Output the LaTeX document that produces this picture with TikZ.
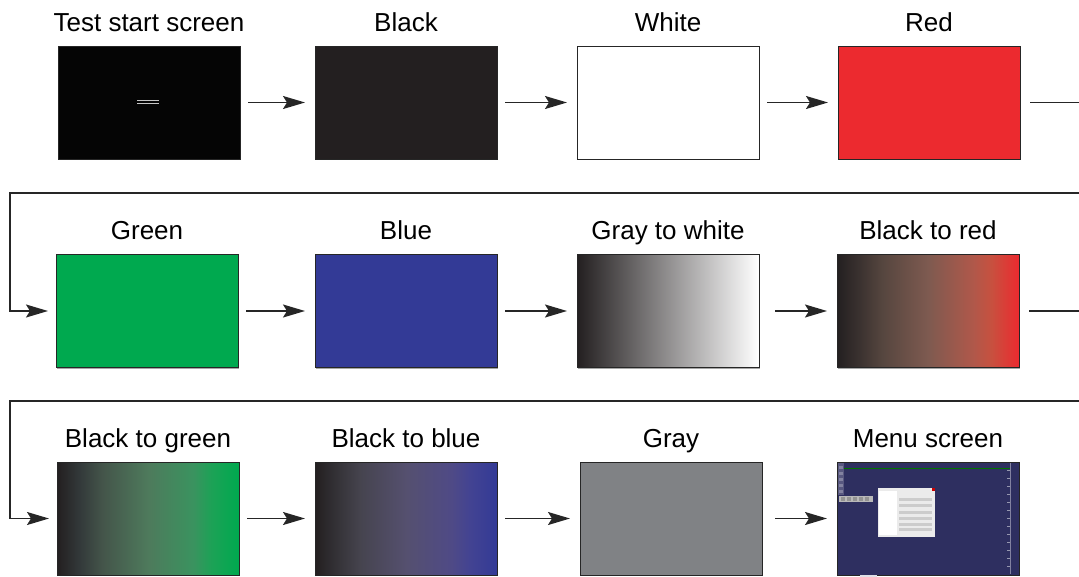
\documentclass[tikz,border=0pt]{standalone}
\usepackage{fontspec}
\setmainfont{Liberation Sans}
\usetikzlibrary{arrows.meta, shadows}
\definecolor{scrblack}{HTML}{231F20}
\definecolor{scrred}{HTML}{EC2A2F}
\definecolor{scrgreen}{HTML}{00A94F}
\definecolor{scrblue}{HTML}{333A96}
\definecolor{scrgray}{HTML}{808285}
\definecolor{menublue}{HTML}{2E2F60}
% gradients as printed on the screens
\definecolor{reda}{HTML}{3B3230}\definecolor{redq}{HTML}{56463F}\definecolor{redm}{HTML}{7E5A50}
\definecolor{redt}{HTML}{B0584A}\definecolor{rede}{HTML}{C8503F}
\definecolor{greena}{HTML}{33393A}\definecolor{greenq}{HTML}{44554A}\definecolor{greenm}{HTML}{4E7A5C}
\definecolor{greent}{HTML}{3A935F}\definecolor{greene}{HTML}{1CA256}
\definecolor{bluea}{HTML}{353338}\definecolor{blueq}{HTML}{46444F}\definecolor{bluem}{HTML}{55506F}
\definecolor{bluet}{HTML}{4F4A86}\definecolor{bluee}{HTML}{434392}
\pgfdeclarehorizontalshading{blackred}{100bp}{color(0bp)=(scrblack); color(25bp)=(scrblack);
    color(31.25bp)=(reda); color(37.5bp)=(redq); color(50bp)=(redm); color(62.5bp)=(redt);
    color(67.5bp)=(rede); color(75bp)=(scrred); color(100bp)=(scrred)}
\pgfdeclarehorizontalshading{blackgreen}{100bp}{color(0bp)=(scrblack); color(25bp)=(scrblack);
    color(31.25bp)=(greena); color(37.5bp)=(greenq); color(50bp)=(greenm); color(62.5bp)=(greent);
    color(67.5bp)=(greene); color(75bp)=(scrgreen); color(100bp)=(scrgreen)}
\pgfdeclarehorizontalshading{blackblue}{100bp}{color(0bp)=(scrblack); color(25bp)=(scrblack);
    color(31.25bp)=(bluea); color(37.5bp)=(blueq); color(50bp)=(bluem); color(62.5bp)=(bluet);
    color(67.5bp)=(bluee); color(75bp)=(scrblue); color(100bp)=(scrblue)}

\begin{document}
\begin{tikzpicture}[x=1pt, y=-1pt, >={Stealth[length=22pt, width=13pt, inset=4pt]},
    screen/.style={draw=black!85, line width=0.8pt, minimum width=182pt, minimum height=113pt,
        inner sep=0pt, outer sep=0pt, drop shadow={shadow xshift=1pt, shadow yshift=-1pt, fill=black!35, opacity=1}},
    screenlabel/.style={anchor=base, font=\fontsize{26}{30}\selectfont},
    link/.style={line width=1.6pt, draw=black!85, shorten <=8pt, shorten >=10pt}]
    \useasboundingbox (0,0) rectangle (1079,576);

    % first row
    \node[screen, fill=black!98] (start) at (149,102.5) {};
    \node[screen, fill=scrblack] (black) at (406,102.5) {};
    \node[screen, fill=white] (white) at (668,102.5) {};
    \node[screen, fill=scrred] (red) at (929,102.5) {};
    % second row
    \node[screen, fill=scrgreen] (green) at (147,311) {};
    \node[screen, fill=scrblue] (blue) at (406,311) {};
    \node[screen, left color=scrblack, right color=white] (graywhite) at (668,311) {};
    \node[screen, shading=blackred] (blackred) at (928,311) {};
    % third row
    \node[screen, shading=blackgreen] (blackgreen) at (148,518.5) {};
    \node[screen, shading=blackblue] (blackblue) at (406,518.5) {};
    \node[screen, fill=scrgray] (gray) at (671,518.5) {};
    \node[screen, fill=menublue] (menu) at (928,518.5) {};

    % captions
    \node[screenlabel] (lstart) at ([yshift=15pt]start.north) {Test start screen};
    \node[screenlabel] (lblack) at ([yshift=15pt]black.north) {Black};
    \node[screenlabel] (lwhite) at ([yshift=15pt]white.north) {White};
    \node[screenlabel] (lred) at ([yshift=15pt]red.north) {Red};
    \node[screenlabel] (lgreen) at ([yshift=15pt]green.north) {Green};
    \node[screenlabel] (lblue) at ([yshift=15pt]blue.north) {Blue};
    \node[screenlabel] (lgraywhite) at ([yshift=15pt]graywhite.north) {Gray to white};
    \node[screenlabel] (lblackred) at ([yshift=15pt]blackred.north) {Black to red};
    \node[screenlabel] (lblackgreen) at ([yshift=15pt]blackgreen.north) {Black to green};
    \node[screenlabel] (lblackblue) at ([yshift=15pt]blackblue.north) {Black to blue};
    \node[screenlabel] (lgray) at ([yshift=15pt]gray.north) {Gray};
    \node[screenlabel] (lmenu) at ([yshift=15pt]menu.north) {Menu screen};

    % faint message on the start screen
    \fill[gray!45] ([shift={(-12,-2.5)}]start.center) rectangle ([shift={(10,-1.5)}]start.center);
    \fill[gray!45] ([shift={(-12,0.5)}]start.center) rectangle ([shift={(10,1.5)}]start.center);

    % menu screen contents
    \fill[menublue!80!white] ([shift={(1,1)}]menu.north west) rectangle ([shift={(7,33)}]menu.north west);
    \foreach \k in {4,10,16,22,28}
        \fill[menublue!60!white] ([shift={(2,\k)}]menu.north west) rectangle ([shift={(6,\k+3)}]menu.north west);
    \fill[gray!55] ([shift={(2,34)}]menu.north west) rectangle ([shift={(36,40)}]menu.north west);
    \foreach \k in {4,10,16,22,28}
        \fill[gray!85] ([shift={(\k,35)}]menu.north west) rectangle ([shift={(\k+4,39)}]menu.north west);
    \draw[green!45!black, line width=0.5pt] ([shift={(7,6)}]menu.north west) -- ([shift={(173,6)}]menu.north west);
    \draw[menublue!60!white, line width=0.4pt] ([shift={(173,1)}]menu.north west) -- ([shift={(173,112)}]menu.north west);
    \foreach \k in {8,16,...,104}
        \draw[menublue!50!white, line width=0.4pt] ([shift={(170,\k)}]menu.north west) -- ([shift={(173,\k)}]menu.north west);
    \fill[black!8] ([shift={(41,26)}]menu.north west) rectangle ([shift={(98,75)}]menu.north west);
    \fill[white] ([shift={(42,29)}]menu.north west) rectangle ([shift={(60,73)}]menu.north west);
    \fill[red!80!black] ([shift={(95,26)}]menu.north west) rectangle ([shift={(98,29)}]menu.north west);
    \foreach \k in {36,42,49,55,61,66}
        \fill[gray!40] ([shift={(62,\k)}]menu.north west) rectangle ([shift={(95,\k+3)}]menu.north west);
    \fill[white!85!menublue] ([shift={(23,113)}]menu.north west) rectangle ([shift={(40,114.5)}]menu.north west);

    % connectors
    \draw[link, ->] (start) -- (black);
    \draw[link, ->] (black) -- (white);
    \draw[link, ->] (white) -- (red);
    \draw[link, ->] (green) -- (blue);
    \draw[link, ->] (blue) -- (graywhite);
    \draw[link, ->, shorten <=16pt] (graywhite) -- (blackred);
    \draw[link, ->] (blackgreen) -- (blackblue);
    \draw[link, ->] (blackblue) -- (gray);
    \draw[link, ->, shorten <=13pt] (gray) -- (menu);

    \coordinate (edge) at (1079,0);
    \draw[link, shorten <=10pt, shorten >=0pt] (red.east) -- (red.east -| edge);
    \draw[link, shorten <=10pt, shorten >=0pt] (blackred.east) -- (blackred.east -| edge);

    \coordinate (wrapa) at (1079,193);
    \coordinate (turna) at (10,193);
    \draw[link, ->, shorten <=0pt, shorten >=8pt] (wrapa) -- (turna) |- (green);
    \coordinate (wrapb) at (1079,401);
    \coordinate (turnb) at (10,401);
    \draw[link, ->, shorten <=0pt, shorten >=8pt] (wrapb) -- (turnb) |- (blackgreen);
\end{tikzpicture}
\end{document}
